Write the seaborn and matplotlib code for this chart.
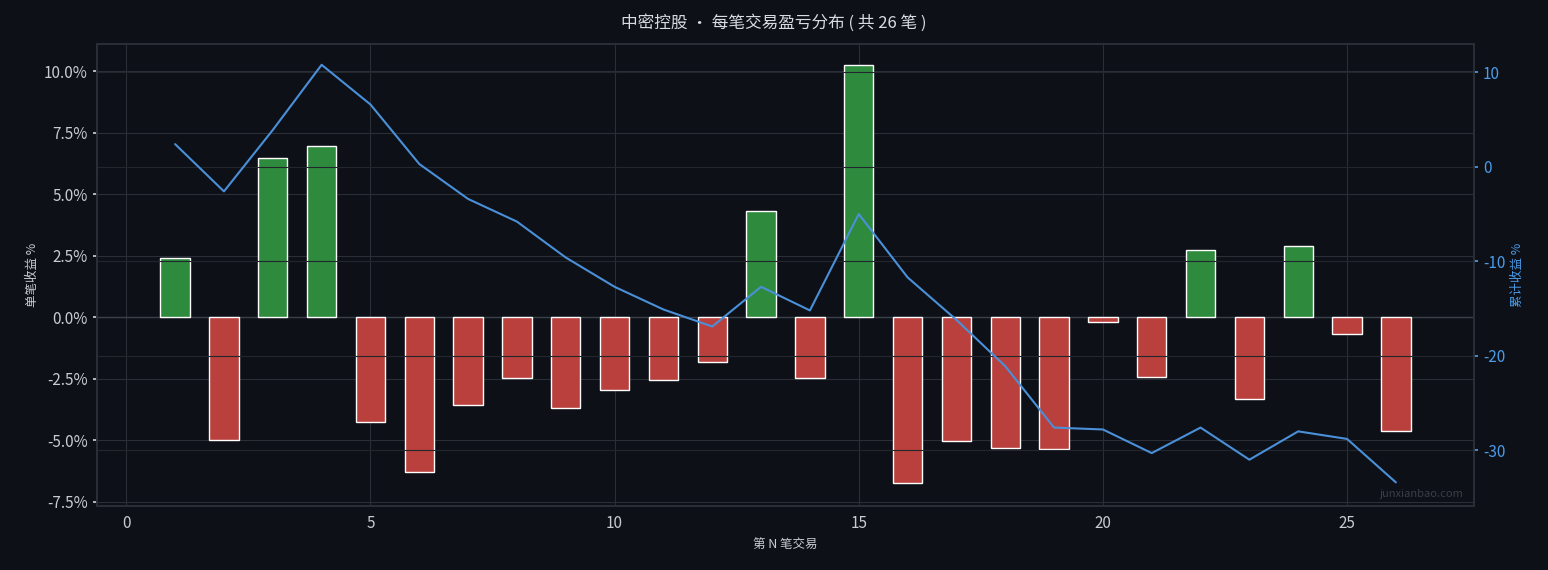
import matplotlib
matplotlib.use("Agg")
import matplotlib.pyplot as plt
import seaborn as sns
import pandas as pd
from matplotlib.ticker import FuncFormatter

trade_no = list(range(1, 27))
ret_pct = [2.40, -5.00, 6.46, 6.95, -4.27, -6.30, -3.58, -2.48, -3.70, -2.97, -2.56, -1.83, 4.31,
           -2.48, 10.24, -6.75, -5.04, -5.33, -5.37, -0.20, -2.44, 2.72, -3.33, 2.89, -0.69, -4.63]
cum_pct = [2.4, -2.6, 3.9, 10.8, 6.6, 0.3, -3.4, -5.8, -9.6, -12.7, -15.1, -16.9, -12.7,
           -15.2, -5.0, -11.7, -16.2, -21.1, -27.6, -27.8, -30.3, -27.6, -31.0, -28.0, -28.8, -33.4]

sns.set_theme(style="dark")
bg = "#0d1017"
plt.rcParams['font.family'] = ['Noto Sans CJK SC', 'DejaVu Sans']
plt.rcParams['axes.unicode_minus'] = False

fig = plt.figure(figsize=(15.48, 5.70), dpi=100, facecolor=bg)
ax = fig.add_axes([97/1548, 64/570, 1377/1548, 462/570])
ax.set_facecolor(bg)
df = pd.DataFrame({"n": trade_no, "r": ret_pct})
colors = ["#2e8b3e" if v >= 0 else "#b9403c" for v in ret_pct]
ax.bar(df["n"], df["r"], width=0.6, color=colors, zorder=2)
ax.set_xlim(-0.6, 27.6)
ax.set_ylim(-7.68, 11.1)
ax.yaxis.set_major_formatter(FuncFormatter(lambda v, p: f"{v:.1f}%"))
ax.grid(True, color="#2a2e36", linewidth=0.8, zorder=0)
ax.axhline(0, color="#3a3f48", linewidth=1, zorder=1)
ax.tick_params(colors="#c8ccd2", labelsize=11, length=3)
for s in ax.spines.values():
    s.set_color("#2a2e36")
ax.set_xlabel("第 N 笔交易", color="#c8ccd2", fontsize=9)
ax.set_ylabel("单笔收益 %", color="#c8ccd2", fontsize=9)

ax2 = ax.twinx()
sns.lineplot(x=trade_no, y=cum_pct, ax=ax2, color="#4a90d9", linewidth=1.5)
ax2.set_ylim(-35.9, 13.0)
ax2.set_yticks([10, 0, -10, -20, -30])
ax2.tick_params(colors="#4a9be8", labelsize=11, length=3)
ax2.set_ylabel("累计收益 %", color="#4a9be8", fontsize=9)
ax2.grid(True, axis="y", color="#22262d", linewidth=0.8)
for s in ax2.spines.values():
    s.set_color("#2a2e36")

fig.suptitle("中密控股 · 每笔交易盈亏分布 ( 共 26 笔 )", color="#d8dce2", fontsize=12, y=0.975)
fig.text(0.945, 0.128, "junxianbao.com", color="#3a3f48", fontsize=8, ha="right")
fig.savefig("out.png", facecolor=bg)
